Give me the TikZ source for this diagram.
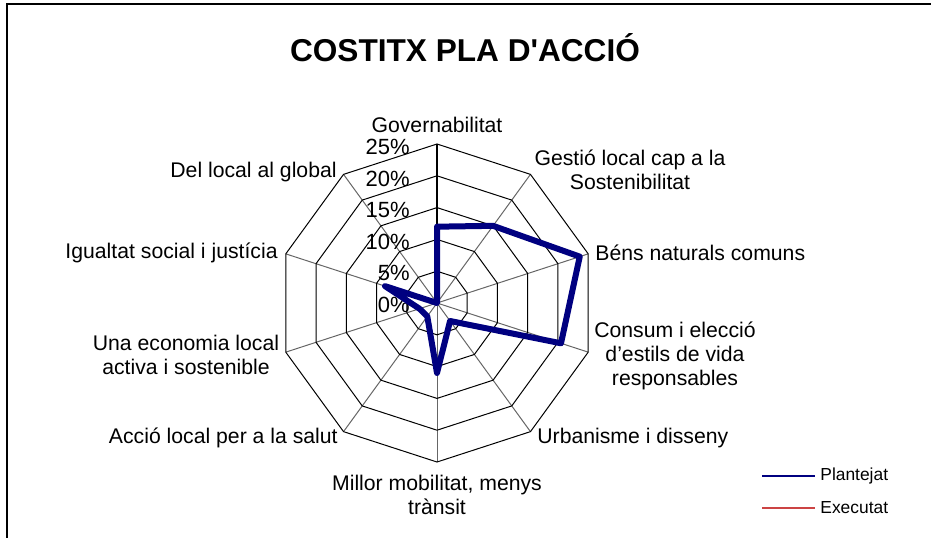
\documentclass[tikz,border=0pt]{standalone}
\usepackage{fontspec}
\setmainfont{Liberation Sans}
\usetikzlibrary{positioning}
\definecolor{plantejat}{RGB}{0,0,128}
\definecolor{executat}{RGB}{204,68,68}
\newcommand\straightquote{\XeTeXglyph\XeTeXcharglyph"0027\relax}
\tikzset{>=latex,
  catlabel/.style={font=\fontsize{10.6}{12}\selectfont,align=center,inner sep=0pt},
  ticklabel/.style={font=\fontsize{11}{12}\selectfont,anchor=east,inner sep=0pt},
  gridring/.style={black,line width=0.5pt},
  spoke/.style={black!60,line width=0.5pt},
  plan/.style={plantejat,line width=3pt,line join=round}}

\begin{document}
\begin{tikzpicture}[x=0.5pt,y=0.5pt]
    \useasboundingbox (-437,-234) rectangle (494,303);
    % frame of the chart
    \draw[line width=1pt] (-430,-240) -- (-430,299) -- (500,299);
    \node[font=\fontsize{15.8}{19}\selectfont\bfseries] (title) at (28,255) {COSTITX PLA D\straightquote ACCI\'O};
    % grid
    \foreach\k in {0,...,9}{
     \coordinate (v\k) at (90-36*\k:159);
     \draw[spoke] (0,0) -- (v\k);}
    \foreach\r in {31.8,63.6,95.4,127.2,159}{
     \draw[gridring] (90:\r) \foreach\k in {1,...,9}{ -- (90-36*\k:\r)} -- cycle;}
    \draw[black,line width=1pt] (0,0) -- (v0);
    \foreach\v [count=\i from 0] in {0,5,10,15,20,25}{
     \node[ticklabel] (t\i) at (-27,\i*31.6-2) {\v\%};}
    % categories
    \node[catlabel] (gov) at (0,178) {Governabilitat};
    \node[catlabel] (gest) at (193,133) {Gesti\'o local cap a la\\Sostenibilitat};
    \node[catlabel,anchor=west] (bens) at (158,50) {B\'ens naturals comuns};
    \node[catlabel] (cons) at (238,-53) {Consum i elecci\'o\\d’estils de vida\\responsables};
    \node[catlabel,anchor=west] (urb) at (100,-135) {Urbanisme i disseny};
    \node[catlabel] (mob) at (0,-192) {Millor mobilitat, menys\\tr\`ansit};
    \node[catlabel,anchor=east] (salut) at (-99,-135) {Acci\'o local per a la salut};
    \node[catlabel] (econ) at (-251,-52) {Una economia local\\activa i sostenible};
    \node[catlabel,anchor=east] (igual) at (-159,50) {Igualtat social i just\'icia};
    \node[catlabel,anchor=east] (glob) at (-100,131) {Del local al global};
    % Plantejat
    \foreach\v [count=\k from 0] in {12,15,23.6,20.5,3.5,11,2.6,2.9,8.6,0}{
     \coordinate (p\k) at (90-36*\k:{\v*6.36});}
    \draw[plan] (p0) -- (p1) -- (p2) -- (p3) -- (p4) -- (p5) -- (p6) -- (p7) -- (p8) -- (p9) -- cycle;
    % legend
    \node[font=\fontsize{8.7}{10}\selectfont,anchor=west,inner sep=0pt] (leg1) at (383,-173) {Plantejat};
    \node[font=\fontsize{8.7}{10}\selectfont,anchor=west,inner sep=0pt] (leg2) at (383,-205) {Executat};
    \coordinate[left=5 of leg1.west] (l1b);
    \coordinate[left=58 of leg1.west] (l1a);
    \coordinate[left=5 of leg2.west] (l2b);
    \coordinate[left=58 of leg2.west] (l2a);
    \draw[plantejat,line width=1pt] (l1a) -- (l1b);
    \draw[executat,line width=1pt] (l2a) -- (l2b);
  \end{tikzpicture}
\end{document}
